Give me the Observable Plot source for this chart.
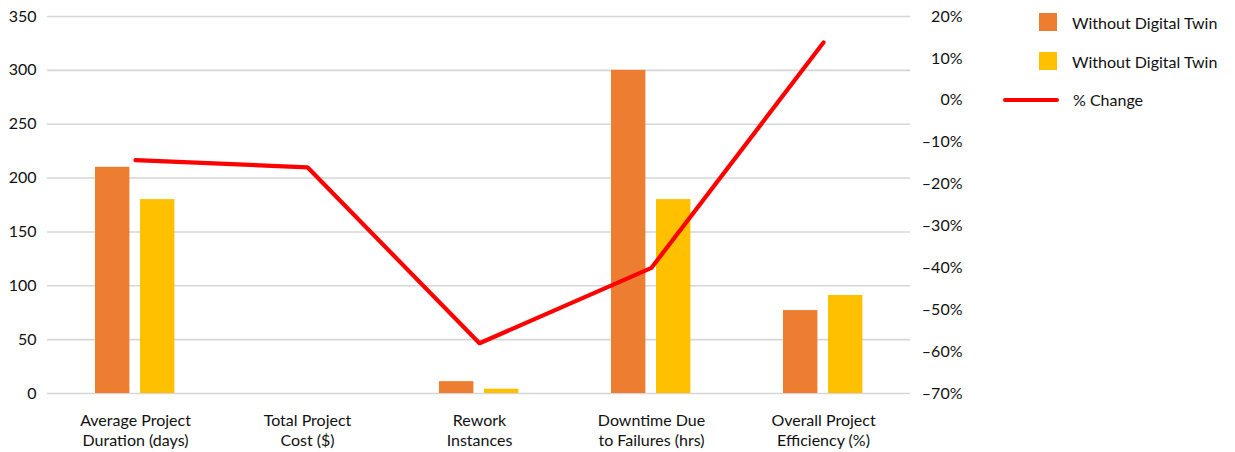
<!DOCTYPE html>
<html>
<head>
<meta charset="utf-8">
<script src="https://cdn.jsdelivr.net/npm/d3@7"></script>
<script src="https://cdn.jsdelivr.net/npm/@observablehq/plot@0.6"></script>
<style>
  html, body { margin: 0; padding: 0; background: #fff; }
  body { width: 1235px; height: 452px; position: relative; font-family: Lato, "Noto Sans", sans-serif; color: #111; overflow: hidden; }
  #chart { position: absolute; left: 0; top: 0; }
  .legend { position: absolute; font-size: 16px; color: #111; }
  .sw { position: absolute; width: 18px; height: 18px; }
  .lbl { position: absolute; white-space: nowrap; line-height: 20px; }
  .ln { position: absolute; height: 4px; border-radius: 2px; background: #ff0000; }
</style>
</head>
<body>
<div id="chart"></div>
<div class="legend">
  <div class="sw" style="left:1039px;top:13px;background:#ED7D31"></div>
  <div class="lbl" style="left:1072px;top:13px">Without Digital Twin</div>
  <div class="sw" style="left:1039px;top:52px;background:#FFC000"></div>
  <div class="lbl" style="left:1072px;top:52px">Without Digital Twin</div>
  <div class="ln" style="left:1003px;top:98px;width:56px"></div>
  <div class="lbl" style="left:1073px;top:90px">% Change</div>
</div>
<script>
const categories = [
  "Average Project\nDuration (days)",
  "Total Project\nCost ($)",
  "Rework\nInstances",
  "Downtime Due\nto Failures (hrs)",
  "Overall Project\nEfficiency (%)"
];
const withoutTwin = [210, null, 11, 300, 77];
const withTwin = [180, null, 4, 180, 91];
const pctChange = [-14.3, -16, -58, -40, 13.8];
const leftTicks = [0, 50, 100, 150, 200, 250, 300, 350];
const rightTicks = [-70, -60, -50, -40, -30, -20, -10, 0, 10, 20];

const pctToLeft = p => (p + 70) * 350 / 90;

const barsA = categories.map((c, i) => ({cat: c, value: withoutTwin[i]})).filter(d => d.value != null);
const barsB = categories.map((c, i) => ({cat: c, value: withTwin[i]})).filter(d => d.value != null);
const lineData = categories.map((c, i) => ({cat: c, pct: pctChange[i]}));

const chart = Plot.plot({
  width: 1235,
  height: 452,
  marginTop: 16,
  marginBottom: 59,
  marginLeft: 47,
  marginRight: 325,
  style: {fontFamily: "Lato, 'Noto Sans', sans-serif", fontSize: "16px", color: "#111", background: "transparent"},
  x: {type: "band", domain: categories, padding: 0},
  y: {domain: [0, 350]},
  marks: [
    Plot.gridY(leftTicks, {stroke: "#d6d6d6", strokeOpacity: 1, strokeWidth: 1.6}),
    Plot.barY(barsA, {x: "cat", y: "value", fill: "#ED7D31", insetLeft: 46, insetRight: 91.6}),
    Plot.barY(barsB, {x: "cat", y: "value", fill: "#FFC000", insetLeft: 91, insetRight: 46.6}),
    Plot.line(lineData, {x: "cat", y: d => pctToLeft(d.pct), stroke: "#ff0000", strokeWidth: 4.2, strokeLinejoin: "round", strokeLinecap: "round"}),
    Plot.axisY(leftTicks, {anchor: "left", tickSize: 0, tickPadding: 11, label: null, tickFormat: d => String(d)}),
    Plot.axisY(rightTicks.map(pctToLeft), {anchor: "right", tickSize: 0, tickPadding: 0, textAnchor: "end", dx: 52, label: null,
      tickFormat: v => {
        const p = Math.round(v * 90 / 350 - 70);
        return (p < 0 ? "\u2013" + Math.abs(p) : String(p)) + "%";
      }}),
    Plot.axisX({anchor: "bottom", tickSize: 0, tickPadding: 18, label: null, lineHeight: 1.25})
  ]
});
document.getElementById("chart").appendChild(chart);
</script>
</body>
</html>
